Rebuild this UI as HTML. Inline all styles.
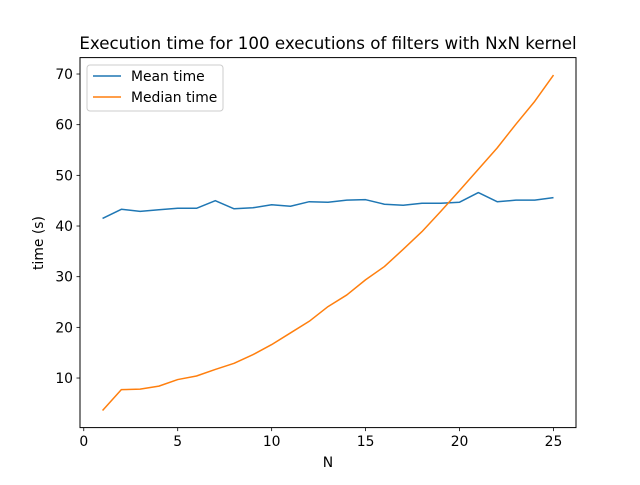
<!DOCTYPE html>
<html><head><meta charset="utf-8"><style>
body{margin:0;background:#fff}
svg text{font-family:"DejaVu Sans","Liberation Sans",sans-serif;fill:#000}
</style></head><body>
<svg id="chart" width="640" height="480" xmlns="http://www.w3.org/2000/svg">
<rect width="640" height="480" fill="#fff"/>
<text x="328" y="49" font-size="16.7" text-anchor="middle">Execution time for 100 executions of filters with NxN kernel</text>
<g id="plot"></g>
<rect x="80" y="57.6" width="496" height="370" fill="none" stroke="#000" stroke-width="1"/>
<text x="328" y="467" font-size="13.9" text-anchor="middle">N</text>
<text transform="translate(43,243) rotate(-90)" font-size="13.9" text-anchor="middle">time (s)</text>
<g>
<rect x="87" y="65" width="136" height="46" rx="3" fill="#fff" stroke="#ccc"/>
<line x1="93" y1="76" x2="121" y2="76" stroke="#1f77b4" stroke-width="1.5"/>
<text x="131" y="81" font-size="13.9">Mean time</text>
<line x1="93" y1="97" x2="121" y2="97" stroke="#ff7f0e" stroke-width="1.5"/>
<text x="131" y="102" font-size="13.9">Median time</text>
</g>
</svg>
<script>
const nValues = [1,2,3,4,5,6,7,8,9,10,11,12,13,14,15,16,17,18,19,20,21,22,23,24,25];
const meanTime = [41.5,43.3,42.9,43.2,43.5,43.5,45.0,43.4,43.6,44.2,43.9,44.8,44.7,45.1,45.2,44.3,44.1,44.5,44.5,44.7,46.6,44.8,45.1,45.1,45.6];
const medianTime = [3.6,7.7,7.8,8.4,9.7,10.4,11.7,12.9,14.6,16.6,18.9,21.2,24.1,26.4,29.4,32.0,35.4,38.9,42.9,47.0,51.2,55.4,60.1,64.6,69.8];
const xTicks = [0,5,10,15,20,25];
const yTicks = [10,20,30,40,50,60,70];

const NS = "http://www.w3.org/2000/svg";
const g = document.getElementById('plot');
function x(v){ return 83.76 + v*18.79; }
function y(v){ return 428.7 - v*5.067; }
function mk(tag, attrs){ const e=document.createElementNS(NS,tag); for(const k in attrs) e.setAttribute(k,attrs[k]); g.appendChild(e); return e; }

xTicks.forEach(t=>{
  const l = mk('line',{x1:x(t),x2:x(t),y1:427.6,y2:431.1,stroke:'#000','stroke-width':0.8});
  
  
  const tx = mk('text',{x:x(t),y:446,'font-size':13.9,'text-anchor':'middle'});
  tx.textContent = t;
  
  
});
yTicks.forEach(t=>{
  const l = mk('line',{x1:76.5,x2:80,y1:y(t),y2:y(t),stroke:'#000','stroke-width':0.8});
  
  
  const tx = mk('text',{x:73,y:y(t)+5,'font-size':13.9,'text-anchor':'end'});
  tx.textContent = t;
  
  
});
function line(vals,color,name){
  const p = mk('polyline',{points:vals.map((v,i)=>x(nValues[i])+','+y(v)).join(' '),fill:'none',stroke:color,'stroke-width':1.5,'stroke-linejoin':'round'});
  
  
}
line(meanTime,'#1f77b4','mean-time-line');
line(medianTime,'#ff7f0e','median-time-line');
</script>
</body></html>
